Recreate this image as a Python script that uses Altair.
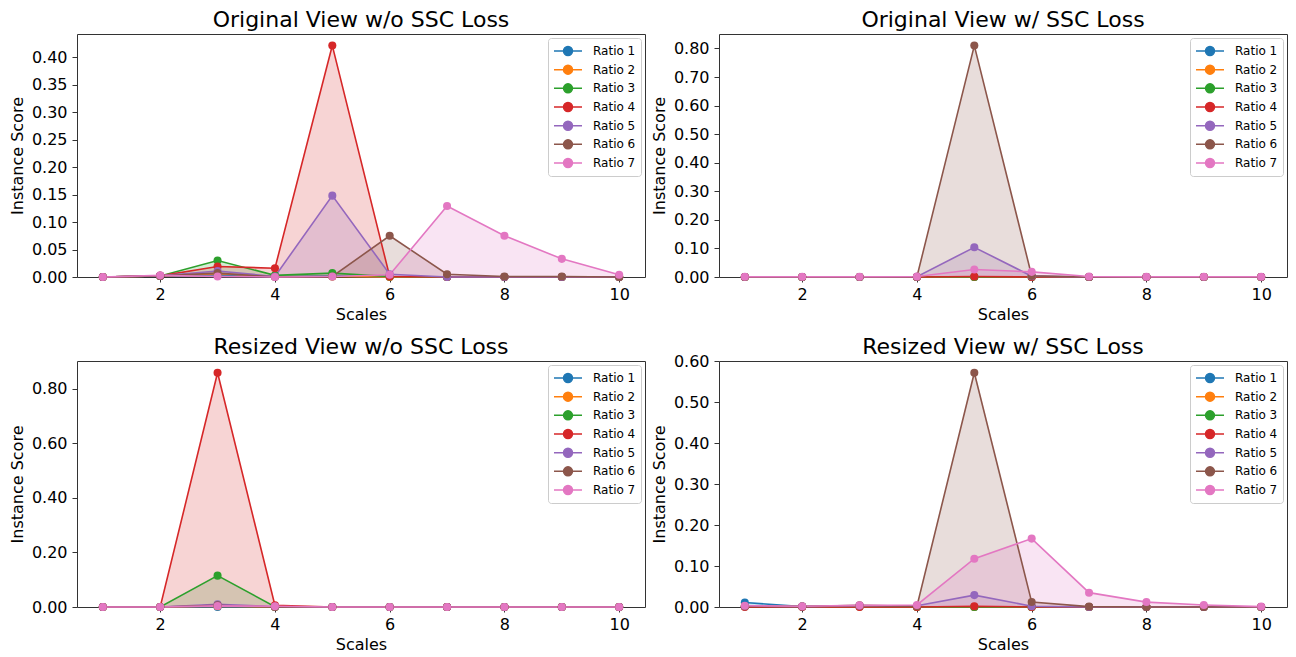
import altair as alt
import pandas as pd

scales = [1, 2, 3, 4, 5, 6, 7, 8, 9, 10]
ratios = ["Ratio 1", "Ratio 2", "Ratio 3", "Ratio 4", "Ratio 5", "Ratio 6", "Ratio 7"]
colors = ["#1f77b4", "#ff7f0e", "#2ca02c", "#d62728", "#9467bd", "#8c564b", "#e377c2"]

# Original View w/o SSC Loss
orig_wo = [
    [0.000, 0.002, 0.004, 0.001, 0.002, 0.000, 0.000, 0.000, 0.000, 0.000],
    [0.000, 0.002, 0.006, 0.001, 0.001, 0.000, 0.000, 0.000, 0.000, 0.000],
    [0.000, 0.002, 0.030, 0.003, 0.007, 0.001, 0.000, 0.000, 0.000, 0.000],
    [0.000, 0.002, 0.019, 0.016, 0.421, 0.001, 0.000, 0.000, 0.000, 0.000],
    [0.000, 0.002, 0.011, 0.001, 0.148, 0.005, 0.000, 0.000, 0.000, 0.000],
    [0.000, 0.002, 0.007, 0.000, 0.001, 0.075, 0.005, 0.001, 0.001, 0.000],
    [0.000, 0.003, 0.001, 0.000, 0.001, 0.004, 0.129, 0.075, 0.033, 0.004],
]
# Original View w/ SSC Loss
orig_w = [
    [0.000, 0.000, 0.000, 0.000, 0.000, 0.000, 0.000, 0.000, 0.000, 0.000],
    [0.000, 0.000, 0.000, 0.000, 0.000, 0.000, 0.000, 0.000, 0.000, 0.000],
    [0.000, 0.000, 0.000, 0.000, 0.000, 0.000, 0.000, 0.000, 0.000, 0.000],
    [0.000, 0.000, 0.000, 0.000, 0.002, 0.000, 0.000, 0.000, 0.000, 0.000],
    [0.000, 0.000, 0.000, 0.001, 0.104, 0.003, 0.000, 0.000, 0.000, 0.000],
    [0.000, 0.000, 0.000, 0.001, 0.810, 0.004, 0.000, 0.000, 0.000, 0.000],
    [0.001, 0.001, 0.001, 0.002, 0.026, 0.018, 0.002, 0.001, 0.001, 0.001],
]
# Resized View w/o SSC Loss
resz_wo = [
    [0.000, 0.000, 0.000, 0.000, 0.000, 0.000, 0.000, 0.000, 0.000, 0.000],
    [0.000, 0.000, 0.003, 0.000, 0.000, 0.000, 0.000, 0.000, 0.000, 0.000],
    [0.000, 0.000, 0.115, 0.001, 0.000, 0.000, 0.000, 0.000, 0.000, 0.000],
    [0.000, 0.000, 0.859, 0.006, 0.000, 0.000, 0.000, 0.000, 0.000, 0.000],
    [0.000, 0.000, 0.010, 0.001, 0.000, 0.000, 0.000, 0.000, 0.000, 0.000],
    [0.000, 0.000, 0.006, 0.000, 0.000, 0.000, 0.000, 0.000, 0.000, 0.000],
    [0.000, 0.000, 0.004, 0.003, 0.000, 0.000, 0.000, 0.000, 0.000, 0.000],
]
# Resized View w/ SSC Loss
resz_w = [
    [0.011, 0.001, 0.001, 0.000, 0.000, 0.000, 0.000, 0.000, 0.000, 0.000],
    [0.002, 0.001, 0.001, 0.000, 0.000, 0.000, 0.000, 0.000, 0.000, 0.000],
    [0.001, 0.001, 0.001, 0.000, 0.000, 0.000, 0.000, 0.000, 0.000, 0.000],
    [0.000, 0.000, 0.000, 0.000, 0.002, 0.000, 0.000, 0.000, 0.000, 0.000],
    [0.002, 0.001, 0.003, 0.003, 0.029, 0.002, 0.000, 0.000, 0.000, 0.000],
    [0.002, 0.001, 0.004, 0.002, 0.572, 0.012, 0.001, 0.000, 0.000, 0.000],
    [0.003, 0.002, 0.004, 0.005, 0.118, 0.167, 0.035, 0.012, 0.005, 0.001],
]

titles = ["Original View w/o SSC Loss", "Original View w/ SSC Loss",
          "Resized View w/o SSC Loss", "Resized View w/ SSC Loss"]
yticks = [
    [0.0, 0.05, 0.10, 0.15, 0.20, 0.25, 0.30, 0.35, 0.40],
    [0.0, 0.1, 0.2, 0.3, 0.4, 0.5, 0.6, 0.7, 0.8],
    [0.0, 0.2, 0.4, 0.6, 0.8],
    [0.0, 0.1, 0.2, 0.3, 0.4, 0.5, 0.6],
]

FONT = "DejaVu Sans"
ratio_list = "[" + ",".join(f"'{r}'" for r in ratios) + "]"
color_list = "[" + ",".join(f"'{c}'" for c in colors) + "]"
legend_color = alt.ExprRef(expr=f"{color_list}[indexof({ratio_list}, datum.value)]")
# line with a dot, drawn in units of half the symbol box (7 px)
SYMBOL = "M-1,0L3,0M0.36,0A0.64,0.64,0,1,0,1.64,0A0.64,0.64,0,1,0,0.36,0Z"


def make_legend():
    return alt.Legend(
        title=None, orient="top-right", offset=4, symbolType=SYMBOL, symbolSize=196,
        symbolStrokeWidth=1.5, symbolFillColor=legend_color, symbolStrokeColor=legend_color,
        symbolOpacity=1,
        labelFont=FONT, labelFontSize=12, labelColor="black", labelOffset=24,
        padding=5, rowPadding=2.67, strokeColor="#cccccc", fillColor="white",
        cornerRadius=3,
    )


def panel(title, values, ticks, w, h, toff):
    rows = []
    for r, vals in zip(ratios, values):
        for s, v in zip(scales, vals):
            rows.append({"Scale": s, "Ratio": r, "Score": v})
    df = pd.DataFrame(rows)
    ymax = max(max(v) for v in values) * 1.05
    x = alt.X("Scale:Q", scale=alt.Scale(domain=[0.55, 10.45], nice=False, zero=False),
              axis=alt.Axis(values=[2, 4, 6, 8, 10], format="d", title="Scales", labelAngle=0))
    y = alt.Y("Score:Q", stack=None, scale=alt.Scale(domain=[0, ymax], nice=False),
              axis=alt.Axis(values=ticks, format=".2f", title="Instance Score"))
    color = alt.Color("Ratio:N", scale=alt.Scale(domain=ratios, range=colors),
                      legend=make_legend())
    base = alt.Chart(df).encode(x=x, y=y, color=color)
    area = base.mark_area(opacity=0.2)
    line = base.mark_line(strokeWidth=1.6)
    pts = base.mark_circle(size=65, opacity=1)
    return alt.layer(area, line, pts).properties(
        width=w, height=h,
        title=alt.TitleParams(title, font=FONT, fontSize=22, fontWeight="normal",
                              color="black", offset=toff, anchor="middle"),
    )


charts = [
    panel(titles[0], orig_wo, yticks[0], 568, 243, 2),
    panel(titles[1], orig_w, yticks[1], 568, 243, 2),
    panel(titles[2], resz_wo, yticks[2], 568, 246, 2),
    panel(titles[3], resz_w, yticks[3], 568, 246, -6),
]

chart = alt.concat(*charts, columns=2, spacing={"row": 84, "column": 74}).properties(
    bounds="flush",
    padding={"left": 0, "top": 0, "right": 0, "bottom": 0},
).resolve_scale(color="independent").resolve_legend(color="independent").configure_view(
    stroke="#333333", strokeWidth=1
).configure_axis(
    grid=False, domain=False, labelFont=FONT, titleFont=FONT, labelFontSize=16,
    titleFontSize=16, titleFontWeight="normal", labelColor="black", titleColor="black",
    tickColor="#333333", tickSize=5, labelPadding=4,
).configure_axisY(titlePadding=6, labelPadding=5).configure_axisX(titlePadding=4)

chart.save("out.html", embed_options={"renderer": "svg", "actions": False})
